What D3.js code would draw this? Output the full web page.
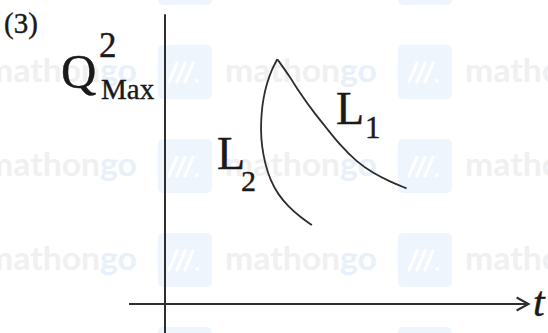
<!DOCTYPE html>
<html>
<head>
<meta charset="utf-8">
<script src="https://cdn.jsdelivr.net/npm/d3@7"></script>
<style>
  body { margin: 0; background: #fff; }
  svg { display: block; }
  .lbl { font-family: "Liberation Serif", "Times New Roman", Tinos, "DejaVu Serif", serif; fill: #1a1a1a; stroke: #1a1a1a; stroke-width: 0.4; }
  .wm { font-family: Lato, "Noto Sans", sans-serif; font-weight: 700; }
</style>
</head>
<body>
<div id="chart"></div>
<script>
// curve samples (t, Q^2 max) in arbitrary units 0..10
const l1T = [3.12, 3.47, 3.75, 4.12, 4.49, 4.86, 5.32, 5.79, 6.25, 6.71];
const l1Q = [8.62, 8.00, 7.42, 6.77, 6.19, 5.60, 5.01, 4.60, 4.31, 4.07];

const l2T = [3.12, 2.96, 2.83, 2.73, 2.68, 2.66, 2.69, 2.78, 2.92, 3.15, 3.43, 3.75, 4.08];
const l2Q = [8.62, 8.24, 7.77, 7.24, 6.71, 6.13, 5.54, 4.95, 4.37, 3.84, 3.43, 3.07, 2.78];

const width = 548, height = 333;
const ink = "#2e2e2e";

const svg = d3.select("#chart")
  .append("svg")
    .attr("width", width)
    .attr("height", height);

// ---- watermark (mathongo tiles) ----
const wm = svg.append("g");
for (let r = -1; r <= 3; r++) {
  for (let c = -1; c <= 2; c++) {
    const sx = 158 + 240 * c, sy = 45 + 94 * r;
    wm.append("rect")
      .attr("x", sx).attr("y", sy)
      .attr("width", 54).attr("height", 54)
      .attr("rx", 5)
      .attr("fill", "#eff5fc");
    // the ///. logo
    [0, 8, 16].forEach(function(o) {
      wm.append("line")
        .attr("x1", sx + 11 + o).attr("y1", sy + 37)
        .attr("x2", sx + 19 + o).attr("y2", sy + 18)
        .attr("stroke", "#fff")
        .attr("stroke-width", 3.2)
        .attr("stroke-linecap", "round");
    });
    wm.append("circle")
      .attr("cx", sx + 39).attr("cy", sy + 36)
      .attr("r", 2).attr("fill", "#fff");

    const t = wm.append("text")
      .attr("class", "wm")
      .attr("x", sx + 67).attr("y", sy + 37)
      .attr("font-size", 33)
      .attr("textLength", 152)
      .attr("lengthAdjust", "spacingAndGlyphs");
    t.append("tspan").attr("fill", "#f0f0f0").text("mathon");
    t.append("tspan").attr("fill", "#e8f0f9").text("go");
  }
}

// ---- scales ----
const x = d3.scaleLinear().domain([0, 10]).range([165, 525]);
const y = d3.scaleLinear().domain([0, 10]).range([304, 20]);

// axes: plain lines, no ticks
svg.append("line")
  .attr("x1", x(0)).attr("x2", x(0))
  .attr("y1", y(10.2)).attr("y2", height)
  .attr("stroke", ink).attr("stroke-width", 2);

svg.append("line")
  .attr("x1", x(-1)).attr("x2", x(10.1))
  .attr("y1", y(0)).attr("y2", y(0))
  .attr("stroke", ink).attr("stroke-width", 2);

// open arrow head on t axis
svg.append("path")
  .attr("d", `M${x(10.1) - 12},${y(0) - 6.5} L${x(10.1)},${y(0)} L${x(10.1) - 12},${y(0) + 6.5}`)
  .attr("fill", "none")
  .attr("stroke", ink)
  .attr("stroke-width", 2);

// ---- curves ----
const line = d3.line()
  .x(d => x(d[0]))
  .y(d => y(d[1]))
  .curve(d3.curveBasis);

const l1 = l1T.map((t, i) => [t, l1Q[i]]);
const l2 = l2T.map((t, i) => [t, l2Q[i]]);

svg.selectAll("path.curve")
  .data([l1, l2])
  .enter()
  .append("path")
    .attr("class", "curve")
    .attr("d", line)
    .attr("fill", "none")
    .attr("stroke", ink)
    .attr("stroke-width", 1.8);

// ---- labels ----
function label(px, py, txt, size, italic) {
  return svg.append("text")
    .attr("class", "lbl")
    .attr("x", px).attr("y", py)
    .attr("font-size", size)
    .attr("font-style", italic ? "italic" : "normal")
    .text(txt);
}

label(4, 33, "(3)", 29);

label(61, 88, "Q", 49);
label(99, 57, "2", 35);
label(101, 99, "Max", 29);

label(336, 124, "L", 46);
label(365, 138, "1", 31);

label(217, 169, "L", 46);
label(241, 191, "2", 30);

label(533, 316, "t", 42, true);
</script>
</body>
</html>
